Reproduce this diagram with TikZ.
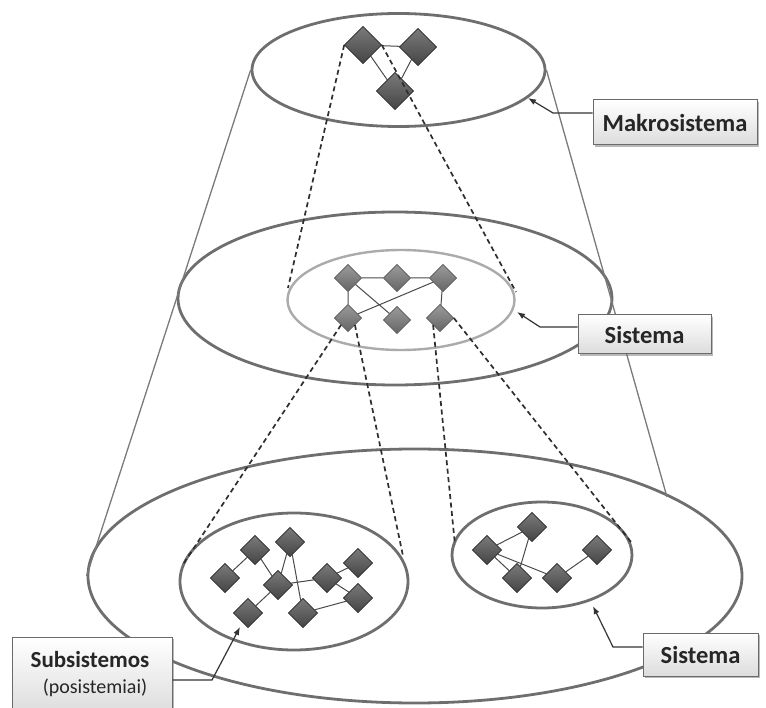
\documentclass[tikz,border=0pt]{standalone}
\usepackage{fontspec}
\setmainfont{Carlito}
\usetikzlibrary{shapes.geometric,shadows,arrows.meta,calc}

\definecolor{ringgray}{HTML}{6E6E6E}
\definecolor{innergray}{HTML}{ABABAB}
\definecolor{conegray}{HTML}{7A7A7A}
\definecolor{linkgray}{HTML}{4A4A4A}
\definecolor{dashgray}{HTML}{2E2E2E}
\definecolor{elemedge}{HTML}{3A3A3A}
\definecolor{elemlight}{HTML}{7A7A7A}
\definecolor{elemdark}{HTML}{454545}
\definecolor{midlight}{HTML}{9A9A9A}
\definecolor{middark}{HTML}{666666}
\definecolor{boxedge}{HTML}{6A6A6A}
\definecolor{boxfill}{HTML}{DCDCDC}
\definecolor{pointergray}{HTML}{333333}

\tikzset{
  ring/.style={ellipse, draw=ringgray, line width=2.8pt, inner sep=0pt},
  innerring/.style={ellipse, draw=innergray, line width=2.4pt, inner sep=0pt},
  coneline/.style={draw=conegray, line width=1.3pt},
  link/.style={draw=linkgray, line width=1pt},
  jump/.style={draw=dashgray, line width=1.7pt, dash pattern=on 5pt off 3.5pt},
  elem/.style={diamond, inner sep=0pt, minimum size=#1, draw=elemedge, line width=0.6pt,
    top color=elemlight, bottom color=elemdark},
  midelem/.style={diamond, inner sep=0pt, minimum size=#1, draw=middark, line width=0.6pt,
    top color=midlight, bottom color=middark},
  labelbox/.style={draw=boxedge, line width=1pt, top color=white, bottom color=boxfill,
    drop shadow={shadow xshift=2pt, shadow yshift=-2pt, fill=black!55},
    inner sep=0pt, text=black!85},
  labelfont/.style={font=\bfseries\fontsize{24.5}{28}\selectfont},
  boxtext/.style={inner sep=0pt, text=black!85},
  pointer/.style={draw=pointergray, line width=1.2pt, -{Latex[length=8pt,width=6pt]}},
}

\begin{document}
\begin{tikzpicture}[x=1pt,y=-1pt]
\useasboundingbox (0,0) rectangle (766,708);

% the three levels of the cone
\node[ring, minimum width=293pt, minimum height=113pt] (top) at (398.5,70) {};
\node[ring, minimum width=434pt, minimum height=173pt] (mid) at (395,298.5) {};
\node[innerring, minimum width=227pt, minimum height=100pt] (inner) at (401,300) {};
\node[ring, minimum width=654pt, minimum height=254pt] (base) at (415,576) {};
\node[ring, minimum width=228pt, minimum height=137pt] (subL) at (294,581.5) {};
\node[ring, minimum width=180pt, minimum height=106pt] (subR) at (542,555) {};

% cone sides
\coordinate (coneR) at (667,497);
\draw[coneline] (top.west) -- (base.west);
\draw[coneline] (top.east) -- (coneR);

% macro system elements
\node[elem=37pt] (t1) at (363,45) {};
\node[elem=37pt] (t2) at (418,47) {};
\node[elem=37pt] (t3) at (395,91) {};

% system elements
\node[midelem=27pt] (m1) at (348,278) {};
\node[midelem=27pt] (m2) at (397,278) {};
\node[midelem=27pt] (m3) at (443,278) {};
\node[midelem=27pt] (m4) at (348,318) {};
\node[midelem=27pt] (m5) at (397,320) {};
\node[midelem=27pt] (m6) at (440,318) {};

% subsystem elements, left
\node[elem=29pt] (a) at (225,578) {};
\node[elem=29pt] (b) at (255,550) {};
\node[elem=29pt] (c) at (290,542) {};
\node[elem=29pt] (d) at (278,585) {};
\node[elem=29pt] (e) at (248,613) {};
\node[elem=29pt] (f) at (327,578) {};
\node[elem=29pt] (g) at (358,563) {};
\node[elem=29pt] (h) at (358,598) {};
\node[elem=29pt] (i) at (303,613) {};

% subsystem elements, right
\node[elem=29pt] (p) at (487,550) {};
\node[elem=29pt] (q) at (532,527) {};
\node[elem=29pt] (r) at (517,578) {};
\node[elem=29pt] (s) at (557,578) {};
\node[elem=29pt] (u) at (597,550) {};

% links between elements
\draw[link] (t1) -- (t2) (t1) -- (t3) (t2) -- (t3);
\draw[link] (m1) -- (m2) (m2) -- (m3) (m1) -- (m4) (m1) -- (m5) (m3) -- (m4) (m3) -- (m6);
\draw[link] (a) -- (b) (b) -- (d) (c) -- (d) (d) -- (f) (c) -- (i) (d) -- (e)
            (f) -- (g) (f) -- (h) (i) -- (h);
\draw[link] (p) -- (q) (p) -- (r) (q) -- (r) (p) -- (s) (s) -- (u);

% redraw elements above their links
\foreach \x/\y in {363/45, 418/47, 395/91}
  \node[elem=37pt] at (\x,\y) {};
\foreach \x/\y in {348/278, 397/278, 443/278, 348/318, 397/320, 440/318}
  \node[midelem=27pt] at (\x,\y) {};
\foreach \x/\y in {225/578, 255/550, 290/542, 278/585, 248/613, 327/578,
                   358/563, 358/598, 303/613, 487/550, 532/527, 517/578,
                   557/578, 597/550}
  \node[elem=29pt] at (\x,\y) {};

% zoom lines between levels
\coordinate (zA) at (288,288);
\coordinate (zB) at (516,292);
\coordinate (zC) at (182,566);
\coordinate (zD) at (403,556);
\coordinate (zE) at (455,545);
\coordinate (zF) at (631,542);
\draw[jump] (t1.west) -- (zA);
\draw[jump] (t1.east) -- (zB);
\draw[jump] (m4.south west) -- (zC);
\draw[jump] (m4.south east) -- (zD);
\draw[jump] (m6.south west) -- (zE);
\draw[jump] (m6.east) -- (zF);

% labels
\node[labelbox, labelfont, minimum width=164pt, minimum height=45pt]
  (makro) at (675,122.5) {Makrosistema};
\node[labelbox, labelfont, minimum width=133pt, minimum height=39pt]
  (sis1) at (644.5,334.5) {Sistema};
\node[labelbox, labelfont, minimum width=115pt, minimum height=43pt]
  (sis2) at (700.5,654.5) {Sistema};
\node[labelbox, minimum width=160pt, minimum height=78pt] (subs) at (92,676) {};
\node[boxtext, font=\bfseries\fontsize{23}{26}\selectfont, anchor=base]
  (subsA) at (90,667) {Subsistemos};
\node[boxtext, font=\fontsize{20}{24}\selectfont, anchor=base]
  (subsB) at (95,693) {(posistemiai)};

% pointers from labels
\coordinate (pA) at (528,98);
\coordinate (pB) at (517,312);
\coordinate (pC) at (593,606);
\coordinate (pD) at (240,627);
\draw[pointer] ($(makro.west)+(0,-9.5)$) -- (553,113) -- (pA);
\draw[pointer] ($(sis1.west)+(0,-7.5)$) -- (540,327) -- (pB);
\draw[pointer] ($(sis2.west)+(0,-7.5)$) -- (613,647) -- (pC);
\draw[pointer] ($(subs.east)+(0,4)$) -- (212,680) -- (pD);
\end{tikzpicture}
\end{document}
